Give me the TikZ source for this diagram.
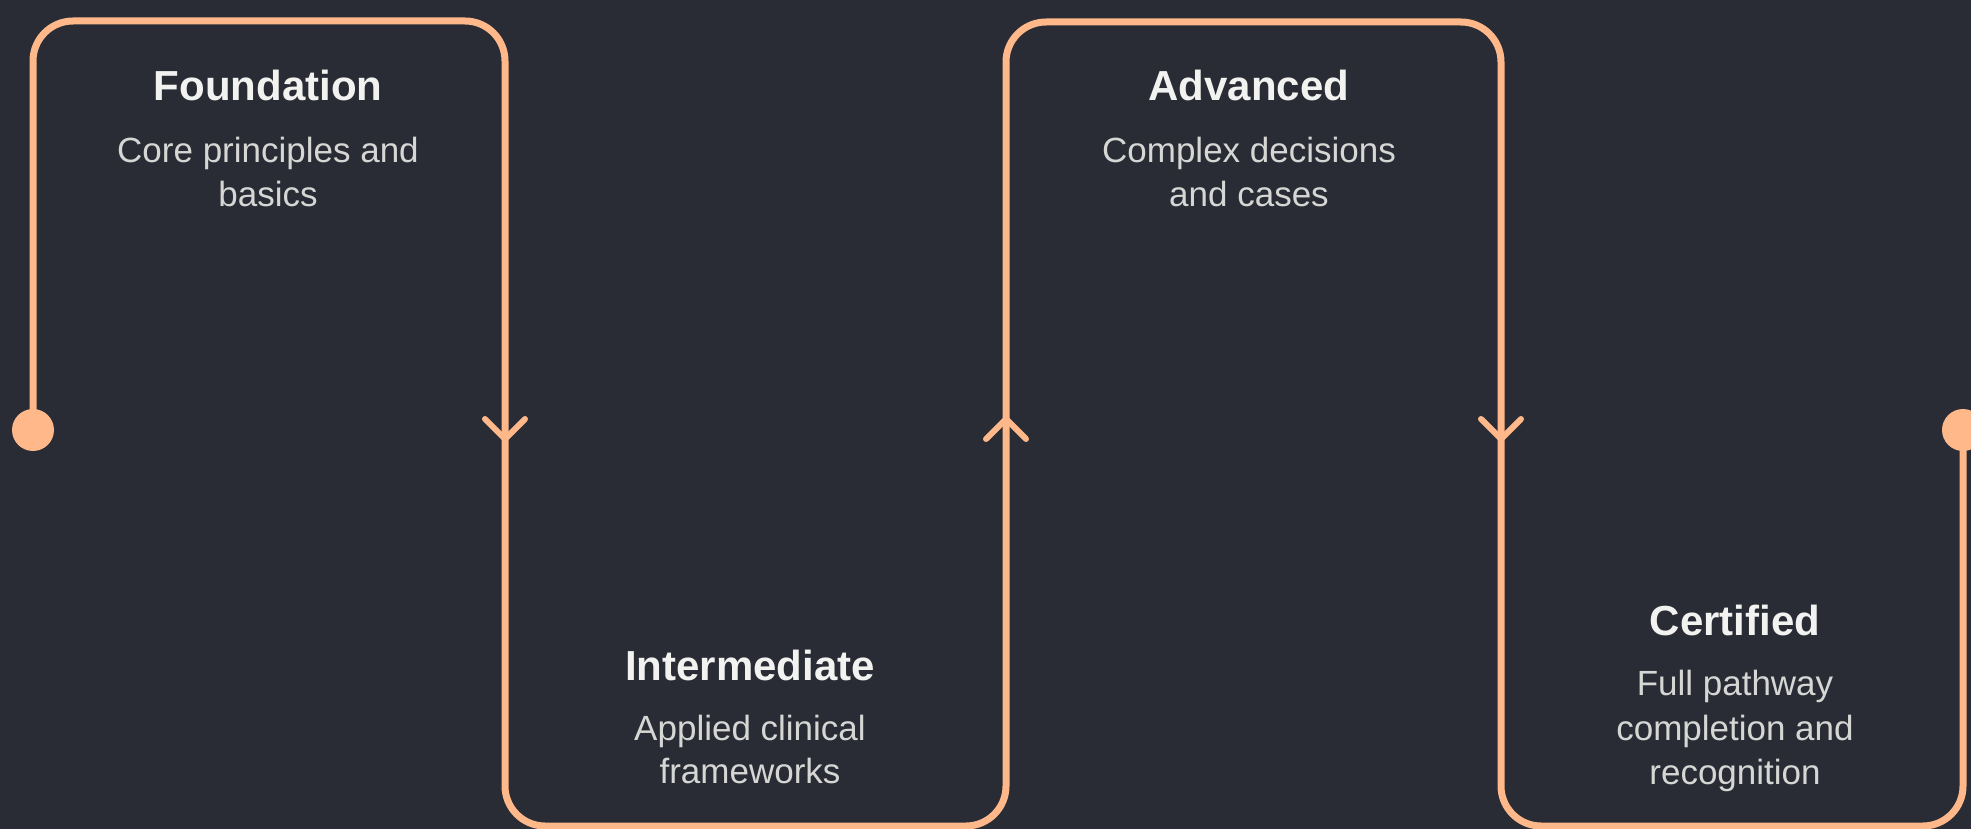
\documentclass[tikz,border=0pt]{standalone}
\usepackage{fontspec}
\setmainfont{Liberation Sans}
\definecolor{bgcol}{HTML}{292C34}
\definecolor{pathcol}{HTML}{FFB88A}
\definecolor{titlecol}{HTML}{F2F2F0}
\definecolor{subcol}{HTML}{D6D6D4}
\tikzset{
  pathline/.style={draw=pathcol, line width=7pt, rounded corners=40pt, line join=round},
  chev/.style={draw=pathcol, line width=6pt, line cap=round, line join=round},
  enddot/.style={fill=pathcol, draw=none},
  titletext/.style={text=titlecol, anchor=base, inner sep=0pt, font=\bfseries\fontsize{42}{50}\selectfont},
  subtext/.style={text=subcol, anchor=base, inner sep=0pt, font=\fontsize{35}{44}\selectfont},
}
\begin{document}
\begin{tikzpicture}[x=1pt,y=-1pt]
\fill[bgcol] (0,0) rectangle (1971,829);
\useasboundingbox (0,0) rectangle (1971,829);
% path turning points
\coordinate (start) at (33,430);
\coordinate (p1) at (33,21);
\coordinate (p2) at (505,21);
\coordinate (p3) at (505,826);
\coordinate (p4) at (1006,826);
\coordinate (p5) at (1006,22);
\coordinate (p6) at (1501,22);
\coordinate (p7) at (1501,826);
\coordinate (p8) at (1963,826);
\coordinate (finish) at (1963,430);
\draw[pathline] (start) -- (p1) -- (p2) -- (p3) -- (p4) -- (p5) -- (p6) -- (p7) -- (p8) -- (finish);
\fill[enddot] (start) circle (21);
\fill[enddot] (finish) circle (21);
% chevrons
\coordinate (t1) at (505,439);
\coordinate (t2) at (1006,419);
\coordinate (t3) at (1501,439);
\draw[chev] ([shift={(-20,-20)}]t1) -- (t1) -- ([shift={(20,-20)}]t1);
\draw[chev] ([shift={(-20,20)}]t2) -- (t2) -- ([shift={(20,20)}]t2);
\draw[chev] ([shift={(-20,-20)}]t3) -- (t3) -- ([shift={(20,-20)}]t3);
% texts
\node[titletext] (ft) at (268,101) {Foundation};
\node[subtext] (fs1) at (268,163) {Core principles and};
\node[subtext] (fs2) at (268,207) {basics};
\node[titletext] (it) at (750,680) {Intermediate};
\node[subtext] (is1) at (750,740) {Applied clinical};
\node[subtext] (is2) at (750,783) {frameworks};
\node[titletext] (at) at (1249,101) {Advanced};
\node[subtext] (as1) at (1249,163) {Complex decisions};
\node[subtext] (as2) at (1249,207) {and cases};
\node[titletext] (ct) at (1735,635) {Certified};
\node[subtext] (cs1) at (1735,695) {Full pathway};
\node[subtext] (cs2) at (1735,740) {completion and};
\node[subtext] (cs3) at (1735,784) {recognition};
\end{tikzpicture}
\end{document}
